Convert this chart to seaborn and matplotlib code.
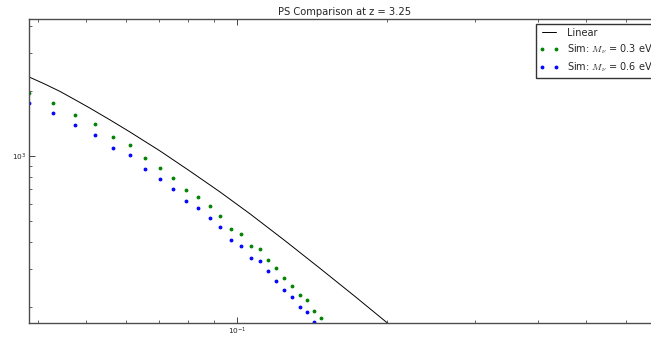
import matplotlib
matplotlib.use('Agg')
import matplotlib.pyplot as plt
import seaborn as sns

# ==========================
# DATA
# ==========================
k_lin = [0.0384, 0.0413, 0.0443, 0.0474, 0.0508, 0.0557, 0.0611, 0.0702,
         0.0805, 0.0925, 0.1062, 0.1247, 0.1466, 0.1722, 0.2023, 0.2432]
p_lin = [2322, 2152, 1989, 1824, 1667, 1471, 1292, 1055,
         852, 682, 540, 406, 302, 224, 165, 116]

k_sim = [0.0384, 0.0429, 0.0475, 0.0521, 0.0566, 0.0611, 0.0656, 0.0702,
         0.0746, 0.0793, 0.0838, 0.0883, 0.0926, 0.0973, 0.1019, 0.1065,
         0.1110, 0.1155, 0.1200, 0.1243, 0.1288, 0.1335, 0.1380, 0.1428,
         0.1472]
p_sim_03 = [1951, 1754, 1548, 1402, 1218, 1128, 977, 883,
            793, 696, 644, 585, 529, 459, 434, 383,
            372, 331, 302, 273, 251, 227, 215, 192,
            178]
p_sim_06 = [1763, 1577, 1389, 1255, 1087, 1007, 871, 785,
            706, 619, 573, 516, 469, 407, 383, 338,
            327, 292, 265, 240, 222, 201, 189, 170,
            157]

title = 'PS Comparison at z = 3.25'
labels = ['Linear', r'Sim: $M_\nu$ = 0.3 eV', r'Sim: $M_\nu$ = 0.6 eV']

# ==========================
# STYLE
# ==========================
sns.set_style('ticks', {'xtick.direction': 'in', 'ytick.direction': 'in',
                        'axes.edgecolor': '0.3'})
plt.rcParams['font.family'] = ['DejaVu Sans']
plt.rcParams['mathtext.fontset'] = 'cm'
plt.rcParams['xtick.top'] = True
plt.rcParams['ytick.right'] = True

# ==========================
# PLOT
# ==========================
fig = plt.figure(figsize=(6.51, 3.38), dpi=100)
ax = fig.add_axes([29 / 651, 15 / 338, 632 / 651, 304 / 338])
ax.set_xscale('log')
ax.set_yscale('log')

sns.lineplot(x=k_lin, y=p_lin, color='k', lw=0.7, label=labels[0],
             ax=ax, legend=False)
sns.lineplot(x=k_sim, y=p_sim_03, color='g', marker='.', linestyle='none',
             ms=4, mec='g', label=labels[1], ax=ax, legend=False)
sns.lineplot(x=k_sim, y=p_sim_06, color='b', marker='.', linestyle='none',
             ms=4, mec='b', label=labels[2], ax=ax, legend=False)

ax.set_xlim(0.0384, 0.705)
ax.set_ylim(168.6, 4305)
ax.set_xlabel('')
ax.set_ylabel('')
ax.set_title(title, fontsize=7.2, pad=3)

for side in ax.spines.values():
    side.set_linewidth(1.0)
ax.tick_params(which='major', length=4, width=0.6, labelsize=5.3, pad=2)
ax.tick_params(which='minor', length=2, width=0.5)

ax.legend(loc='upper right', numpoints=2, fontsize=7, handlelength=2,
          borderpad=0.4, labelspacing=0.45, handletextpad=0.8,
          borderaxespad=0.5, fancybox=False, framealpha=1, edgecolor='0.2')

fig.savefig('out.png', dpi=100)
